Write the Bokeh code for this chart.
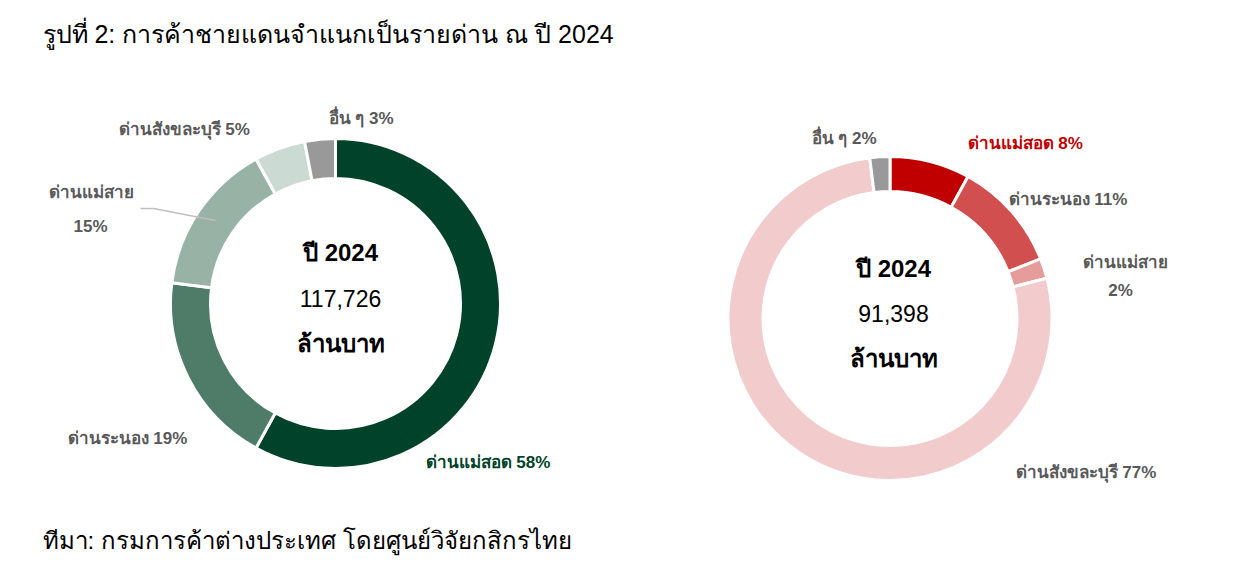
from math import pi
from bokeh.plotting import figure
from bokeh.models import Range1d, ColumnDataSource
from bokeh.core.properties import value
from bokeh.embed import file_html
from bokeh.resources import INLINE

# ---- data ----
title_text = "รูปที่ 2: การค้าชายแดนจำแนกเป็นรายด่าน ณ ปี 2024"
source_text = "ทีมา: กรมการค้าต่างประเทศ โดยศูนย์วิจัยกสิกรไทย"

left_names = ["ด่านแม่สอด", "ด่านระนอง", "ด่านแม่สาย", "ด่านสังขละบุรี", "อื่น ๆ"]
left_shares = [58, 19, 15, 5, 3]
left_total = "117,726"
left_year = "ปี 2024"

right_names = ["ด่านแม่สอด", "ด่านระนอง", "ด่านแม่สาย", "ด่านสังขละบุรี", "อื่น ๆ"]
right_shares = [8, 11, 2, 77, 2]
right_total = "91,398"
right_year = "ปี 2024"
unit = "ล้านบาท"

left_colors = ["#00432a", "#4e7c69", "#98b3a6", "#cbdad3", "#999999"]
right_colors = ["#c00000", "#d24f4f", "#e79c9c", "#f2cccc", "#999999"]

W, H = 1223, 565
FONT = "Liberation Sans"


def Y(py):
    return 581 - py


p = figure(width=W, height=H, output_backend="svg", toolbar_location=None,
           x_range=Range1d(0, W), y_range=Range1d(581 - H, 581),
           min_border=0, outline_line_color=None)
p.axis.visible = False
p.grid.visible = False


def donut(cx, cy, r_in, r_out, shares, colors):
    total = sum(shares)
    starts, ends = [], []
    acc = 0.0
    for s in shares:
        a0 = pi / 2 - 2 * pi * acc / total
        acc += s
        a1 = pi / 2 - 2 * pi * acc / total
        starts.append(a1)
        ends.append(a0)
    src = ColumnDataSource(dict(x=[cx] * len(shares), y=[cy] * len(shares),
                                start=starts, end=ends, color=colors))
    p.annular_wedge(x="x", y="y", inner_radius=r_in, outer_radius=r_out,
                    start_angle="start", end_angle="end", fill_color="color",
                    line_color="white", line_width=3, source=src)


donut(335, Y(303), 125, 165, left_shares, left_colors)
donut(889.5, Y(318), 127, 162, right_shares, right_colors)


def txt(x, y, s, size, color="#595959", style="bold", align="left", font=FONT):
    p.text(x=[x], y=[Y(y)], text=[s], text_font=value(font),
           text_font_size=f"{size}px", text_color=color, text_font_style=style,
           text_align=align, text_baseline="middle")


LS = 17
# left labels
txt(328, 118, f"{left_names[4]} {left_shares[4]}%", LS)
txt(118, 129, f"{left_names[3]} {left_shares[3]}%", LS)
txt(48, 192, left_names[2], LS)
txt(90, 226, f"{left_shares[2]}%", LS, align="center")
txt(67, 438, f"{left_names[1]} {left_shares[1]}%", LS)
txt(425, 462, f"{left_names[0]} {left_shares[0]}%", LS, color="#00432a")
p.line(x=[140, 153, 215], y=[Y(208), Y(208), Y(220)], line_color="#bfbfbf", line_width=1.5)

# right labels
txt(811, 138, f"{right_names[4]} {right_shares[4]}%", LS)
txt(967, 143, f"{right_names[0]} {right_shares[0]}%", LS, color="#c00000")
txt(1008, 199, f"{right_names[1]} {right_shares[1]}%", LS)
txt(1082, 262, right_names[2], LS)
txt(1120, 290, f"{right_shares[2]}%", LS, align="center")
txt(1015, 472, f"{right_names[3]} {right_shares[3]}%", LS)

# centers
txt(340, 252, left_year, 24, color="black", align="center")
txt(340, 298, left_total, 23, color="black", style="normal", align="center")
txt(340, 343, unit, 24, color="black", align="center")
txt(893, 268, right_year, 24, color="black", align="center")
txt(893, 313, right_total, 23, color="black", style="normal", align="center")
txt(893, 358, unit, 24, color="black", align="center")

# title & source
txt(42, 33, title_text, 25, color="black", style="normal")
txt(42, 540, source_text, 24, color="black", style="normal")

open("out.html", "w").write(file_html(p, INLINE))
